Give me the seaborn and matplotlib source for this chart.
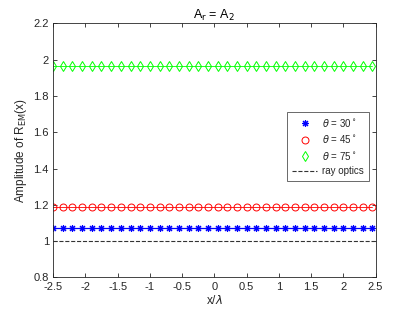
import numpy as np
import pandas as pd
import matplotlib
matplotlib.use("Agg")
import matplotlib.pyplot as plt
import seaborn as sns

# Sample positions x/lambda (step 0.15 from -2.5)
x_pos = np.arange(-2.5, 2.5, 0.15)
n = len(x_pos)

# Amplitude of R_EM for each angle (flat across x)
amp_30 = [1.073] * n
amp_45 = [1.189] * n
amp_75 = [1.966] * n
ray_x = [-2.5, 2.5]
ray_y = [1.0, 1.0]

labels = [r"$\theta$ = 30$^\circ$", r"$\theta$ = 45$^\circ$", r"$\theta$ = 75$^\circ$"]
x_ticks = [-2.5, -2, -1.5, -1, -0.5, 0, 0.5, 1, 1.5, 2, 2.5]
x_ticklabels = ["-2.5", "-2", "-1.5", "-1", "-0.5", "0", "0.5", "1", "1.5", "2", "2.5"]
y_ticks = [0.8, 1.0, 1.2, 1.4, 1.6, 1.8, 2.0, 2.2]
y_ticklabels = ["0.8", "1", "1.2", "1.4", "1.6", "1.8", "2", "2.2"]

sns.set_style("ticks")
plt.rcParams["font.family"] = ["Liberation Sans", "DejaVu Sans"]
plt.rcParams["mathtext.fontset"] = "dejavusans"

fig = plt.figure(figsize=(4.15, 3.12), dpi=100)
ax = fig.add_axes([0.128, 0.111, 0.777, 0.814])

df30 = pd.DataFrame({"x": x_pos, "y": amp_30})
df45 = pd.DataFrame({"x": x_pos, "y": amp_45})
df75 = pd.DataFrame({"x": x_pos, "y": amp_75})
dfray = pd.DataFrame({"x": ray_x, "y": ray_y})

sns.lineplot(data=df30, x="x", y="y", ax=ax, color="#0000ff", lw=0.9,
             marker=(8, 2, 0), markersize=5, markeredgecolor="#0000ff",
             markeredgewidth=0.8, label=labels[0])
sns.lineplot(data=df45, x="x", y="y", ax=ax, color="#ff0000", lw=0.6,
             marker="o", markersize=5, markeredgecolor="#ff0000",
             markerfacecolor="none", markeredgewidth=0.7, label=labels[1])
sns.lineplot(data=df75, x="x", y="y", ax=ax, color="#00ff00", lw=0.6,
             marker="d", markersize=5.2, markeredgecolor="#00ff00",
             markerfacecolor="none", markeredgewidth=0.7, label=labels[2])
sns.lineplot(data=dfray, x="x", y="y", ax=ax, color="#333333", lw=0.8,
             linestyle="--", label="ray optics")

ax.set_xlim(-2.5, 2.5)
ax.set_ylim(0.8, 2.2)
ax.set_xticks(x_ticks)
ax.set_xticklabels(x_ticklabels)
ax.set_yticks(y_ticks)
ax.set_yticklabels(y_ticklabels)
ax.tick_params(direction="in", length=3, width=0.6, labelsize=8,
               top=True, right=True, colors="#262626", pad=3)
for s in ax.spines.values():
    s.set_color("#262626")
    s.set_linewidth(0.6)

ax.set_xlabel(r"x/$\lambda$", fontsize=8.5, color="#262626", labelpad=2)
ax.set_ylabel(r"Amplitude of R$_{\mathrm{EM}}$(x)", fontsize=8.5, color="#262626", labelpad=3)
ax.set_title(r"A$_{\mathrm{r}}$ = A$_{\mathrm{2}}$", fontsize=9, color="#000000", pad=3)

leg = ax.legend(loc="upper right", bbox_to_anchor=(0.979, 0.651), fontsize=7,
                frameon=True, fancybox=False, edgecolor="#262626",
                handlelength=2.6, borderpad=0.5, labelspacing=0.45,
                handletextpad=0.5, borderaxespad=0)
leg.get_frame().set_linewidth(0.6)
for h in leg.get_lines()[:3]:
    h.set_linestyle("none")

fig.savefig("out.png", dpi=100)
